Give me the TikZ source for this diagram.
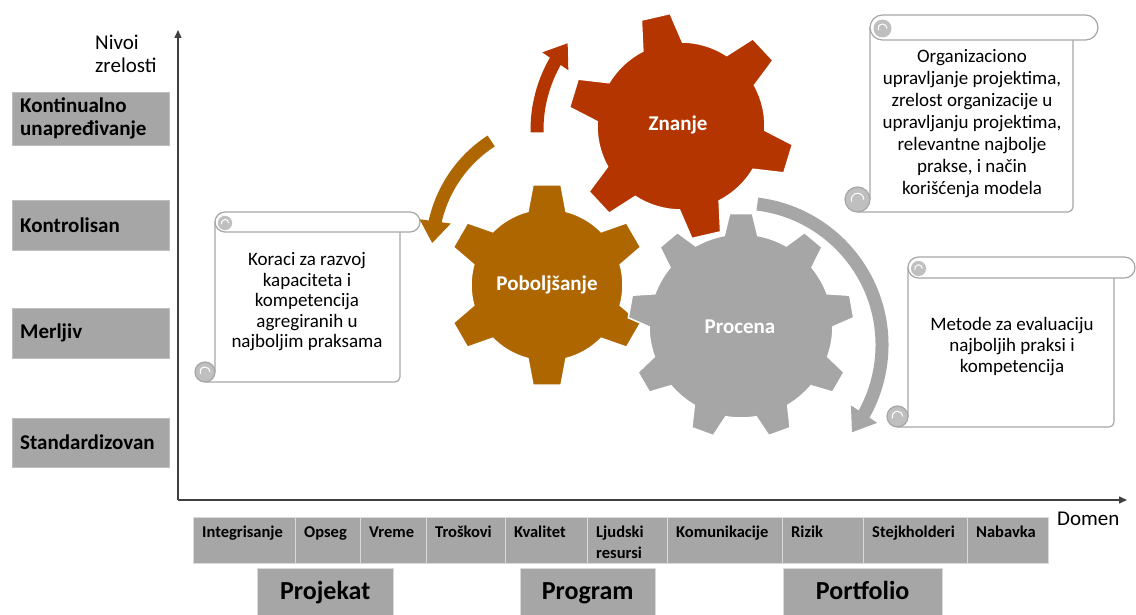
\documentclass[tikz,border=0pt]{standalone}
\usepackage{fontspec}
\setmainfont{Carlito}
\usetikzlibrary{arrows.meta,bending}
\definecolor{gred}{HTML}{B43500}
\definecolor{gbrown}{HTML}{AE6600}
\definecolor{ggray}{HTML}{A6A6A6}
\definecolor{boxgray}{HTML}{A6A6A6}
\definecolor{curlc}{HTML}{BFBFBF}
\definecolor{cellline}{HTML}{D9D9D9}
\definecolor{axisc}{HTML}{404040}
\definecolor{scrollc}{HTML}{A6A6A6}

% gear: cx cy n rot r R hb ht colour
\newcommand\gearshape[9]{%
  \pgfmathsetmacro\gstep{360/#3}%
  \pgfmathtruncatemacro\glast{#3-1}%
  \filldraw[fill=#9, draw=white, line width=1.5pt, shift={(#1,#2)}] ({#4-#7}:#5)
    \foreach \gi in {0,...,\glast}{
      -- ({#4+\gi*\gstep-#7}:#5) -- ({#4+\gi*\gstep-#8}:#6)
      -- ({#4+\gi*\gstep+#8}:#6) -- ({#4+\gi*\gstep+#7}:#5)
      arc[start angle={#4+\gi*\gstep+#7}, end angle={#4+(\gi+1)*\gstep-#7}, radius=#5]
    } -- cycle;
}

% scroll: L T R B c
\newcommand\scrollshape[5]{%
  \pgfmathsetmacro\sch{#5/2}%
  % body
  \filldraw[draw=scrollc, fill=white, line width=1.2pt, rounded corners=5pt]
    ({#1+#5/2},{#4}) -- ({#3-#5},{#4}) -- ({#3-#5},{#2+#5/2})
    [sharp corners] -- ({#1+#5},{#2+#5/2}) -- ({#1+#5},{#4-#5/2});
  % bottom curl
  \filldraw[draw=scrollc, fill=curlc, line width=1.2pt] ({#1+#5/2},{#4-#5/2}) circle[radius=#5/2];
  \draw[white, line width=1pt] ({#1+#5/2+#5/4},{#4-#5/2}) arc[start angle=0, end angle=-200, radius=#5/4];
  % top band
  \filldraw[draw=scrollc, fill=white, line width=1.2pt, rounded corners=\sch pt]
    ({#1+#5},{#2}) rectangle ({#3},{#2+#5});
  % top curl
  \fill[curlc] ({#1+#5*1.5},{#2+#5/2+1}) circle[radius=#5*0.36];
  \draw[white, line width=1pt] ({#1+#5*1.5+#5*0.18},{#2+#5/2+1}) arc[start angle=0, end angle=-200, radius=#5*0.18];
}

\begin{document}
\begin{tikzpicture}[x=1pt,y=-1pt,
  lvl/.style={draw=curlc, fill=boxgray, anchor=north west, minimum width=157pt,
    minimum height=#1, inner xsep=8pt, inner ysep=0pt, text width=141pt, align=left,
    font=\fontsize{21}{23}\selectfont\bfseries},
  cell/.style={draw=cellline, fill=boxgray, anchor=north west, inner xsep=9pt, inner ysep=0pt,
    text width=#1, text height=20pt, text depth=26pt, align=left,
    font=\fontsize{16.5}{21}\selectfont\bfseries},
  big/.style={draw=cellline, fill=boxgray, anchor=north west, minimum width=#1,
    inner ysep=0pt, text height=31pt, text depth=30pt, align=center,
    font=\fontsize{26}{30}\selectfont\bfseries},
  gearlbl/.style={text=white, font=\fontsize{21}{24}\selectfont\bfseries},
  scrolltxt/.style={align=center, font=\fontsize{19}{#1}\selectfont},
  axis/.style={axisc, line width=1.5pt, -{Triangle[width=7pt,length=8pt]}},
  circarrow/.style={#1, line width=13pt, -{Triangle[width=30pt,length=22pt]}}
]
\useasboundingbox (0,0) rectangle (1136,615);

% axes
\coordinate (o) at (178,500);
\coordinate (ytop) at (178,30);
\coordinate (xend) at (1127,500);
\draw[axis] (o) -- (ytop);
\draw[axis] (o) -- (xend);
\node[anchor=west, align=left, inner sep=0pt, font=\fontsize{21}{23}\selectfont] (nivoi) at (95,54) {Nivoi\\zrelosti};
\node[anchor=base west, inner sep=0pt, font=\fontsize{21}{23}\selectfont] (domen) at (1057,525) {Domen};

% levels
\node[lvl=53pt] (l1) at (12,92) {Kontinualno\\unapređivanje};
\node[lvl=50pt] (l2) at (12,200) {Kontrolisan};
\node[lvl=50pt] (l3) at (12,308) {Merljiv};
\node[lvl=49pt] (l4) at (12,418) {Standardizovan};

% domain cells
\node[cell=84pt] (c1) at (193,517) {Integrisanje};
\node[cell=47pt] (c2) at (295,517) {Opseg};
\node[cell=48pt] (c3) at (360,517) {Vreme};
\node[cell=61pt] (c4) at (426,517) {Troškovi};
\node[cell=64pt] (c5) at (505,517) {Kvalitet};
\node[cell=62pt] (c6) at (587,517) {Ljudski\\resursi};
\node[cell=97pt] (c7) at (667,517) {Komunikacije};
\node[cell=63pt] (c8) at (782,517) {Rizik};
\node[cell=86pt] (c9) at (863,517) {Stejkholderi};
\node[cell=63pt] (c10) at (967,517) {Nabavka};

\node[big=136pt] (projekat) at (257,568) {Projekat};
\node[big=135pt] (program) at (520,568) {Program};
\node[big=159pt] (portfolio) at (783,568) {Portfolio};

% scrolls
\scrollshape{195}{212}{420}{382}{20}
\node[scrolltxt=20.5pt] (s1) at (307,302) {Koraci za razvoj\\kapaciteta i\\kompetencija\\agregiranih u\\najboljim praksama};
\scrollshape{845}{15}{1098}{212}{25}
\node[scrolltxt=22pt] (s2) at (972,124) {Organizaciono\\upravljanje projektima,\\zrelost organizacije u\\upravljanju projektima,\\relevantne najbolje\\prakse, i način\\korišćenja modela};
\scrollshape{887}{257}{1135}{427}{21}
\node[scrolltxt=21pt] (s3) at (1012,347) {Metode za evaluaciju\\najboljih praksi i\\kompetencija};

% circular arrows
\draw[circarrow=gred] ([shift={(-181:138)}]675,130) arc[start angle=-181, end angle=-141, radius=138];
\draw[circarrow=gbrown] ([shift={(-123:130)}]562,250) arc[start angle=-123, end angle=-177, radius=130];
\draw[circarrow=ggray] ([shift={(-83:142)}]740,345) arc[start angle=-83, end angle=38, radius=142];

% gears
\gearshape{547}{285}{6}{90}{76}{101}{14.5}{8}{gbrown}
\gearshape{681}{126}{6}{-103}{84}{113}{14}{7.5}{gred}
\gearshape{741}{326}{9}{-90}{92}{113}{10.5}{5.8}{ggray}

\node[gearlbl] (znanje) at (678,125) {Znanje};
\node[gearlbl] (poboljsanje) at (547,285) {Poboljšanje};
\node[gearlbl] (procena) at (740,327) {Procena};
\end{tikzpicture}
\end{document}
